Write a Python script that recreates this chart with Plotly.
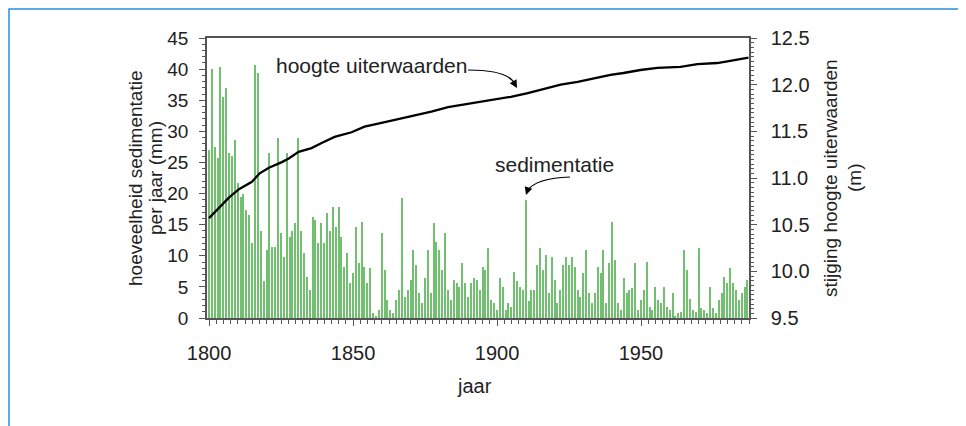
import plotly.graph_objects as go

# ---- data ----
years = list(range(1800, 1988))
sediment = [
    27, 40, 27.5, 25.7, 40.3, 35.5, 37, 26.5, 26, 28.6,
    21.7, 19.5, 20, 17.4, 16.6, 12, 40.6, 39.4, 14, 6,
    11, 26.5, 11.4, 11.4, 29, 13.7, 9.8, 26.5, 13, 14,
    15.2, 29, 14, 10.4, 6.6, 4.5, 16.2, 15.7, 12, 15.2,
    12, 16.8, 14, 17.8, 14.6, 17.9, 13, 8.2, 10.4, 5.6,
    7.2, 14.6, 8.8, 15.4, 8.2, 5.6, 8, 0.8, 0.2, 1.3,
    13.7, 7.7, 2.9, 1.3, 0.8, 2.9, 4.5, 19.3, 3.4, 4.5,
    6.1, 10.9, 8.5, 4, 2.4, 6.4, 10.9, 4, 15.2, 12.2,
    10.9, 7.7, 13.7, 4.5, 2.9, 6.1, 5.6, 5, 8.8, 5.6,
    3.4, 5.6, 6.4, 6.1, 4.5, 8.2, 7.7, 11.2, 2.9, 2.4,
    1.3, 6.4, 5, 1.3, 2.4, 1.8, 7.4, 5.9, 5, 4.5,
    19, 2.7, 4.5, 4.5, 8.5, 11.2, 7.7, 10.1, 4, 9.8,
    6.1, 2.4, 4.5, 8.5, 9.8, 8.5, 9.8, 8.2, 4.5, 3.4,
    7.2, 10.9, 4, 2.4, 4, 8.2, 7.2, 10.9, 2.4, 8.8,
    15.4, 9.3, 2.4, 1.3, 6.4, 4, 4.5, 4.8, 8.8, 1.3,
    2.9, 4.5, 9, 1.8, 1.3, 5, 2.9, 2.4, 5, 1.8,
    1.3, 4, 0.3, 0.8, 1, 10.9, 7.7, 3, 1.3, 1,
    11.2, 1.6, 1.3, 0.8, 5, 1.6, 0.8, 2.9, 4, 6.6,
    5.6, 8, 5.6, 4.5, 2.9, 4, 5, 6.1,
]
height_years = [1800, 1803.5, 1806.9, 1810.4, 1814.9, 1817.6, 1820.8, 1825.3,
                1827.7, 1831.1, 1835.6, 1839.1, 1843.6, 1849.5, 1854.0, 1859.9,
                1865.7, 1872.7, 1877.2, 1883.0, 1888.6, 1893.4, 1899.0, 1904.8,
                1910.7, 1916.3, 1922.1, 1928.0, 1933.6, 1939.4, 1943.9, 1949.8,
                1955.7, 1963.7, 1969.6, 1976.5, 1981.0, 1987.3]
height_m = [10.57, 10.68, 10.79, 10.88, 10.96, 11.05, 11.11, 11.17,
            11.21, 11.28, 11.32, 11.375, 11.44, 11.49, 11.55, 11.59,
            11.63, 11.675, 11.71, 11.76, 11.79, 11.815, 11.845, 11.87,
            11.91, 11.955, 12.0, 12.03, 12.07, 12.105, 12.125, 12.157,
            12.18, 12.19, 12.22, 12.232, 12.255, 12.29]
x_ticks = [1800, 1850, 1900, 1950]

FONT = "Arial, Liberation Sans, sans-serif"
TXT = "#222222"
AX = "#555555"

fig = go.Figure()
fig.add_trace(go.Bar(x=years[:len(sediment)], y=sediment, width=0.42,
                     marker=dict(color="rgb(112,192,112)", line=dict(width=0)),
                     yaxis="y", showlegend=False))
fig.add_trace(go.Scatter(x=height_years, y=height_m, mode="lines",
                         line=dict(color="black", width=2.3),
                         yaxis="y2", showlegend=False))

# screen geometry (the page body adds an 8px offset)
OFF = 8
SW, SH = 966, 426
W, H = SW - OFF, SH - OFF
L, R, T, B = 207, 749, 38, 318          # plot area in screen pixels
pw, ph = R - L, B - T

def px(xs):
    return (xs - L) / pw

def py(ys):
    return (B - ys) / ph

x0, x1 = 1799.3, 1987.5
def dx(xs):
    return x0 + (xs - L) / pw * (x1 - x0)

def dy(ys):
    return (B - ys) / ph * 45

fig.update_layout(
    width=W, height=H,
    margin=dict(l=L - OFF, r=W - (R - OFF), t=T - OFF, b=H - (B - OFF)),
    paper_bgcolor="white", plot_bgcolor="white",
    font=dict(family=FONT, size=19, color=TXT),
    bargap=0,
    xaxis=dict(range=[x0, x1], tickvals=x_ticks, ticks="outside", ticklen=6,
               tickcolor=AX, showline=True, linecolor=AX, linewidth=1.5,
               mirror=True, showgrid=False, zeroline=False,
               ticklabelstandoff=10,
               minor=dict(dtick=2.5, tick0=1800, ticks="outside", ticklen=4,
                          tickcolor=AX),
               tickfont=dict(size=20)),
    yaxis=dict(range=[0, 45], dtick=5, ticks="outside", ticklen=6,
               tickcolor=AX, showline=True, linecolor=AX, linewidth=1.5,
               showgrid=False, zeroline=False, ticklabelstandoff=7,
               minor=dict(dtick=1, ticks="outside", ticklen=3, tickcolor=AX),
               tickfont=dict(size=19)),
    yaxis2=dict(range=[9.5, 12.5], dtick=0.5, tickformat=".1f",
                overlaying="y", side="right", ticks="outside", ticklen=6,
                tickcolor=AX, showline=True, linecolor=AX, linewidth=1.5,
                showgrid=False, zeroline=False, ticklabelstandoff=10,
                minor=dict(dtick=0.05, ticks="outside", ticklen=3,
                           tickcolor=AX),
                tickfont=dict(size=20)),
)

# blue frame
fig.add_shape(type="path", xref="paper", yref="paper",
              path=f"M {px(9)},{py(440)} L {px(9)},{py(9)} L {px(980)},{py(9)}",
              line=dict(color="#2a8fe0", width=1.5))

# curved arrows
fig.add_shape(type="path", xref="x", yref="y",
              path=f"M {dx(468)},{dy(70)} Q {dx(508)},{dy(70)} {dx(515)},{dy(84)}",
              line=dict(color="black", width=1.2))
fig.add_shape(type="path", xref="x", yref="y",
              path=f"M {dx(570)},{dy(177)} Q {dx(536)},{dy(178)} {dx(527)},{dy(191)}",
              line=dict(color="black", width=1.2))

def label(xs, ys, text, size, angle=0):
    return dict(x=px(xs), y=py(ys), text=text, showarrow=False,
                xref="paper", yref="paper", xanchor="center",
                yanchor="middle", textangle=angle, font=dict(size=size))

anns = [
    dict(x=dx(517), y=dy(88), ax=-4, ay=-7, text="", showarrow=True,
         arrowhead=2, arrowsize=1.2, arrowwidth=1.3, arrowcolor="black",
         xref="x", yref="y"),
    dict(x=dx(526), y=dy(195), ax=2, ay=-6, text="", showarrow=True,
         arrowhead=2, arrowsize=1.2, arrowwidth=1.3, arrowcolor="black",
         xref="x", yref="y"),
    label(371, 66, "hoogte uiterwaarden", 21),
    label(554, 164, "sedimentatie", 21),
    label(135, 178, "hoeveelheid sedimentatie", 19, -90),
    label(155, 178, "per jaar (mm)", 19, -90),
    label(830, 178, "stijging hoogte uiterwaarden", 19, -90),
    label(854, 178, "(m)", 19, -90),
    label(474, 386, "jaar", 20),
]
fig.update_layout(annotations=anns)

fig.write_html("out.html")
